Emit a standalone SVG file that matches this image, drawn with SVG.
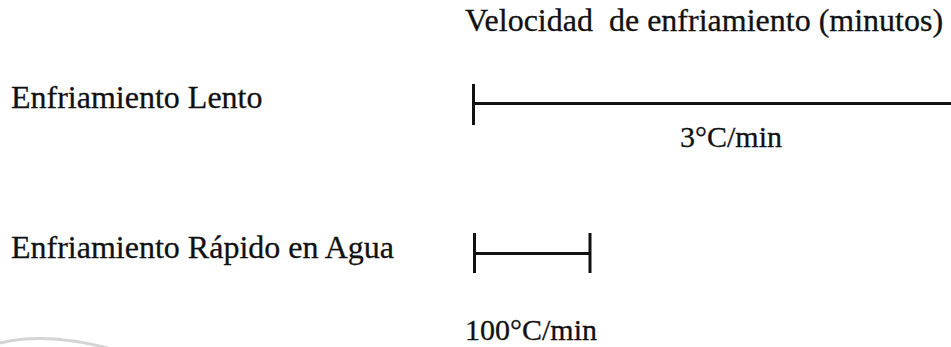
<svg xmlns="http://www.w3.org/2000/svg" width="951" height="347" viewBox="0 0 951 347">
<style>
  text { font-family: "Liberation Serif", "Times New Roman", serif; font-size: 32px; fill: #111; white-space: pre; stroke: #111; stroke-width: 0.3; }
  .rate { font-size: 30px; }
  .bar { stroke: #111; stroke-width: 3; fill: none; }
</style>
<rect width="951" height="347" fill="#fff"/>
<path d="M0,343 Q45,332 108,348" fill="none" stroke="#d4d4d4" stroke-width="3"/>
<g id="title"><text x="465" y="31" xml:space="preserve">Velocidad  de enfriamiento (minutos)</text></g>
<g id="lento-label"><text x="11" y="108">Enfriamiento Lento</text></g>
<g id="rapido-label"><text x="11" y="258">Enfriamiento Rápido en Agua</text></g>
<g id="connectors">
  <line class="bar" x1="473.5" y1="84" x2="473.5" y2="125"/>
  <line class="bar" x1="473.5" y1="103.5" x2="951" y2="103.5"/>
  <line class="bar" x1="474.5" y1="233" x2="474.5" y2="273"/>
  <line class="bar" x1="590" y1="233" x2="590" y2="273"/>
  <line class="bar" x1="474.5" y1="253.5" x2="590" y2="253.5"/>
</g>
<g id="lento-rate"><text class="rate" x="680" y="147">3°C/min</text></g>
<g id="rapido-rate"><text class="rate" x="465" y="340">100°C/min</text></g>
</svg>
